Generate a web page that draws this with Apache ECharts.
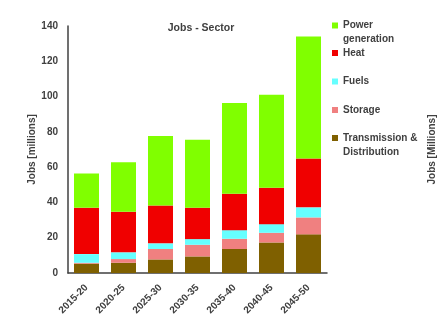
<!DOCTYPE html>
<html><head><meta charset="utf-8">
<script src="https://cdn.jsdelivr.net/npm/echarts@6/dist/echarts.min.js"></script>
<style>html,body{margin:0;padding:0;background:#fff}#c{width:438px;height:326px}</style>
</head><body><div id="c"></div>
<script>
const categories = ['2015-20','2020-25','2025-30','2030-35','2035-40','2040-45','2045-50'];
const transmission = [5.3, 5.8, 7.7, 9.4, 13.6, 17.3, 21.9];
const storage = [0.5, 2.1, 5.9, 6.6, 5.8, 5.5, 9.6];
const fuels = [4.9, 3.8, 3.2, 3.2, 4.9, 4.9, 5.7];
const heat = [26.3, 23.0, 21.5, 17.8, 20.6, 20.6, 27.7];
const power = [19.4, 28.1, 39.3, 38.5, 51.4, 52.7, 69.1];
const yTicks = [0, 20, 40, 60, 80, 100, 120, 140];

const FONT = '"Liberation Sans", Arial, sans-serif';
const TXT = '#404040';
const seriesDefs = [
  {name: 'Transmission & Distribution', data: transmission, color: '#7F6000', label: ' \nTransmission &\nDistribution', y: 138, two: true},
  {name: 'Storage', data: storage, color: '#F08080', label: 'Storage', y: 110},
  {name: 'Fuels', data: fuels, color: '#66FFFF', label: 'Fuels', y: 81.5},
  {name: 'Heat', data: heat, color: '#F00000', label: 'Heat', y: 53},
  {name: 'Power generation', data: power, color: '#80FF00', label: ' \nPower\ngeneration', y: 25.5, two: true}
];

const chart = echarts.init(document.getElementById('c'), null, {renderer: 'canvas'});
chart.setOption({
  animation: false,
  title: {text: 'Jobs - Sector', left: 196, top: 18, textAlign: 'center',
    textStyle: {fontFamily: FONT, fontSize: 10.5, fontWeight: 'bold', color: TXT}},
  grid: {left: 68, right: 111, top: 26, bottom: 53, containLabel: false, outerBoundsMode: 'none'},
  legend: seriesDefs.map(s => ({
    data: [s.name], left: 332, top: s.two ? s.y - 21 : s.y - 7, padding: 0,
    itemWidth: 6, itemHeight: 6, icon: 'rect', selectedMode: false,
    formatter: () => s.label,
    textStyle: {fontFamily: FONT, fontSize: 10, fontWeight: 'bold', color: TXT, lineHeight: 14}
  })),
  xAxis: {type: 'category', data: categories,
    axisLine: {lineStyle: {color: '#404040', width: 1.5}}, axisTick: {show: false},
    axisLabel: {rotate: 45, interval: 0, margin: 13, fontFamily: FONT, fontSize: 10, fontWeight: 'bold', color: TXT}},
  yAxis: [{type: 'value', min: yTicks[0], max: yTicks[yTicks.length - 1], interval: 20,
    name: 'Jobs [millions]', nameLocation: 'middle', nameGap: 31, nameMoveOverlap: false,
    nameTextStyle: {fontFamily: FONT, fontSize: 10, fontWeight: 'bold', color: TXT},
    axisLine: {show: true, lineStyle: {color: '#404040', width: 1.5}}, axisTick: {show: false},
    splitLine: {show: false},
    axisLabel: {margin: 10, fontFamily: FONT, fontSize: 10, fontWeight: 'bold', color: TXT}},
   {type: 'value', min: 0, max: 140, position: 'right',
    name: 'Jobs [Millions]', nameLocation: 'middle', nameGap: 100, nameRotate: 90, nameMoveOverlap: false,
    nameTextStyle: {fontFamily: FONT, fontSize: 10, fontWeight: 'bold', color: TXT},
    axisLine: {show: false}, axisTick: {show: false}, axisLabel: {show: false}, splitLine: {show: false}}],
  series: seriesDefs.map(s => ({
    name: s.name, type: 'bar', stack: 'jobs', data: s.data, barWidth: 25,
    itemStyle: {color: s.color}
  }))
});
</script></body></html>
